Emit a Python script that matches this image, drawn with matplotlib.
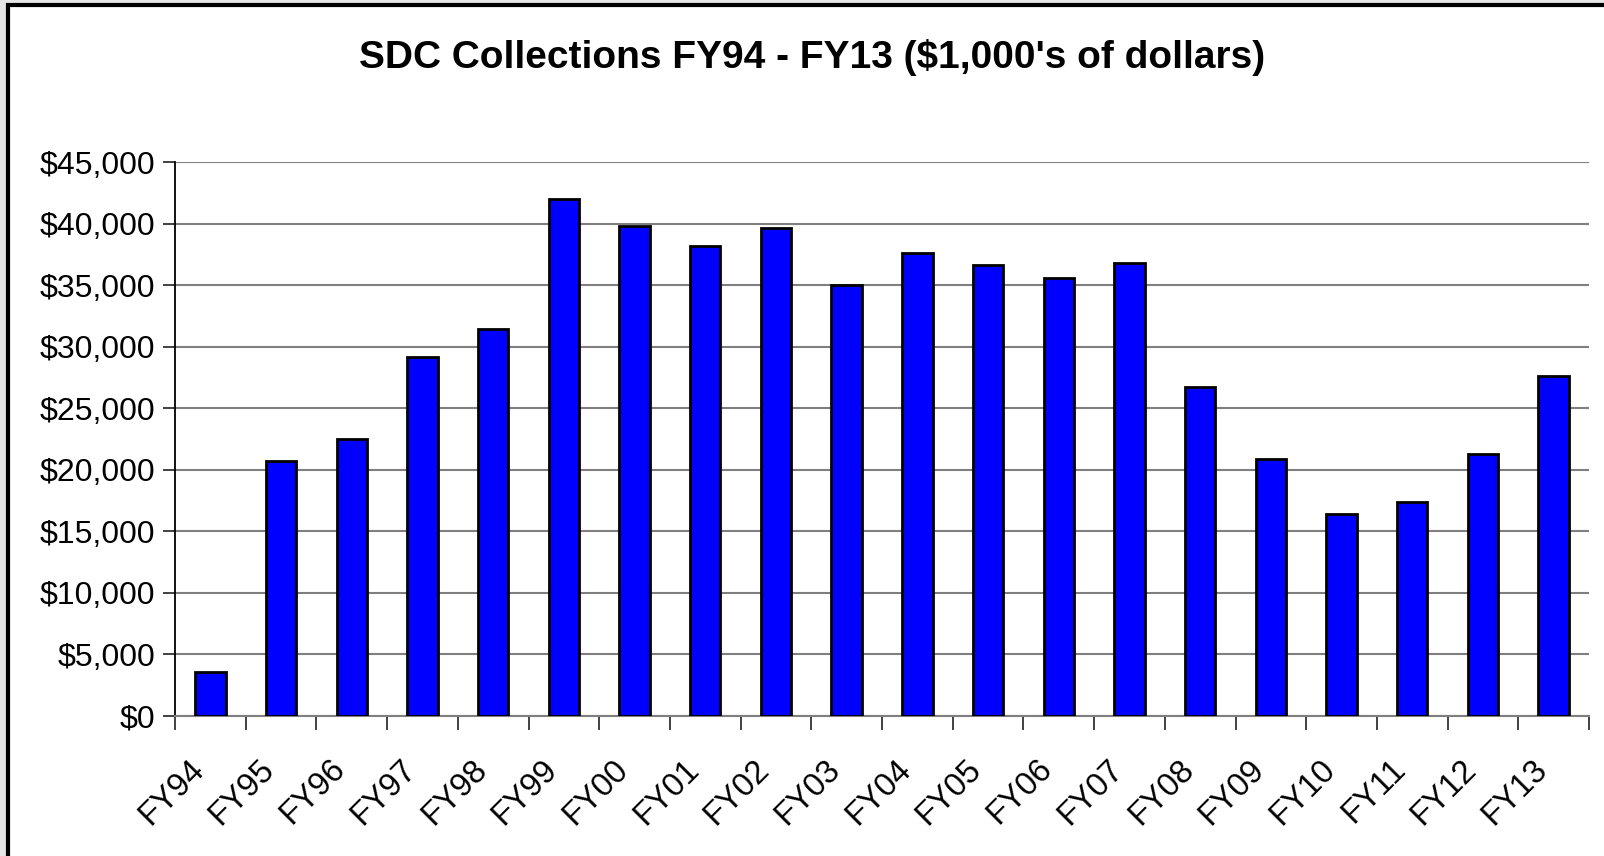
import matplotlib.pyplot as plt
from matplotlib.patches import Rectangle
from matplotlib.ticker import FuncFormatter, MultipleLocator
from matplotlib.transforms import ScaledTranslation
import numpy as np

years = ["FY94", "FY95", "FY96", "FY97", "FY98", "FY99", "FY00", "FY01", "FY02", "FY03",
         "FY04", "FY05", "FY06", "FY07", "FY08", "FY09", "FY10", "FY11", "FY12", "FY13"]
collections = [3600, 20700, 22500, 29200, 31400, 42000, 39800, 38200, 39600, 35000,
               37600, 36600, 35600, 36800, 26700, 20900, 16400, 17400, 21300, 27600]

plt.rcParams['font.family'] = ['Liberation Sans', 'DejaVu Sans']

W, H = 1604, 856
fig = plt.figure(figsize=(W / 100, H / 100), dpi=100, facecolor='#e6e6e6')

# white chart panel with black frame (runs off the right/bottom edges)
panel = Rectangle((8 / W, 0 - 0.05), 1.2, 1 - 5 / H + 0.05, transform=fig.transFigure,
                  facecolor='white', edgecolor='black', linewidth=3, zorder=-5)
fig.patches.append(panel)

left, right, top, bottom = 175, 1589, 162, 716
ax = fig.add_axes([left / W, 1 - bottom / H, (right - left) / W, (bottom - top) / H])
ax.set_facecolor('none')

x = np.arange(len(years))
ax.bar(x, collections, width=0.43, color='#0000ff', edgecolor='black', linewidth=2, zorder=3)

ax.set_xlim(-0.5, len(years) - 0.5)
ax.set_ylim(0, 45000)
ax.yaxis.set_major_locator(MultipleLocator(5000))
ax.yaxis.set_major_formatter(FuncFormatter(lambda v, p: f"${v:,.0f}"))
ax.grid(axis='y', color='#7f7f7f', linewidth=1.5, zorder=1)

ax.set_xticks(x)
ax.set_xticklabels(years, rotation=45, ha='right', va='top', rotation_mode='anchor')
ax.set_xticks(np.arange(len(years) + 1) - 0.5, minor=True)
ax.tick_params(axis='x', which='major', length=0, labelsize=23.5, pad=27)
ax.tick_params(axis='x', which='minor', length=10, width=1.3, color='#333333', direction='out')
ax.tick_params(axis='y', length=9, width=1.3, color='#333333', labelsize=23, pad=5)

# shift the slanted labels a little left, like the original
shift = ScaledTranslation(-22 / 100, 0, fig.dpi_scale_trans)
for lbl in ax.get_xticklabels():
    lbl.set_transform(lbl.get_transform() + shift)

for side in ['top', 'right']:
    ax.spines[side].set_visible(False)
ax.spines['left'].set_color('black')
ax.spines['left'].set_linewidth(1.3)
ax.spines['bottom'].set_color('#7f7f7f')
ax.spines['bottom'].set_linewidth(1.5)

fig.text(812 / W, 1 - 57 / H, "SDC Collections FY94 - FY13 ($1,000's of dollars)",
         ha='center', va='center', fontsize=28, fontweight='bold')

fig.savefig("out.png", dpi=100, facecolor=fig.get_facecolor())
